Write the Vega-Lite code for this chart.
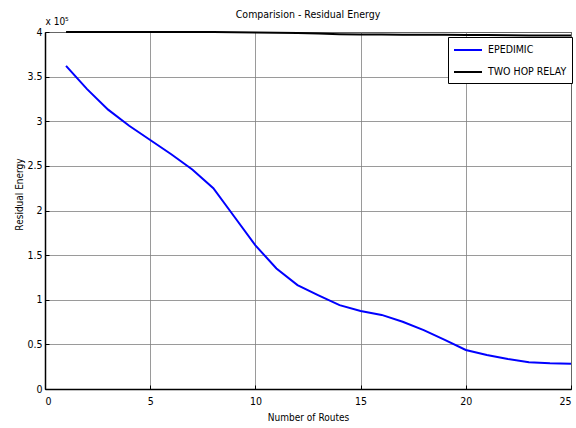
{
  "$schema": "https://vega.github.io/schema/vega-lite/v6.json",
  "width": 526,
  "height": 357,
  "autosize": {"type": "none"},
  "padding": {"left": 45, "top": 32, "right": 5, "bottom": 39},
  "background": "white",
  "title": {
    "text": "Comparision - Residual Energy",
    "fontSize": 10.5,
    "fontWeight": "normal",
    "font": "DejaVu Sans Condensed, Liberation Sans Narrow, Liberation Sans",
    "anchor": "middle",
    "offset": -4,
    "color": "black"
  },
  "config": {
    "view": {"stroke": "black", "strokeWidth": 1},
    "font": "DejaVu Sans Condensed, Liberation Sans Narrow, Liberation Sans",
    "axis": {
      "gridColor": "#808080",
      "gridOpacity": 1,
      "gridWidth": 0.8,
      "domainColor": "black",
      "domainWidth": 1.5,
      "tickColor": "black",
      "labelColor": "black",
      "labelFontSize": 10.5,
      "titleFontSize": 10,
      "titleFontWeight": "normal",
      "titleColor": "black"
    }
  },
  "data": {
    "values": [
      {"routes": 1, "energy": 362000, "series": "EPEDIMIC"},
      {"routes": 2, "energy": 336000, "series": "EPEDIMIC"},
      {"routes": 3, "energy": 313000, "series": "EPEDIMIC"},
      {"routes": 4, "energy": 295000, "series": "EPEDIMIC"},
      {"routes": 5, "energy": 279000, "series": "EPEDIMIC"},
      {"routes": 6, "energy": 263000, "series": "EPEDIMIC"},
      {"routes": 7, "energy": 246000, "series": "EPEDIMIC"},
      {"routes": 8, "energy": 225000, "series": "EPEDIMIC"},
      {"routes": 9, "energy": 193000, "series": "EPEDIMIC"},
      {"routes": 10, "energy": 161000, "series": "EPEDIMIC"},
      {"routes": 11, "energy": 135000, "series": "EPEDIMIC"},
      {"routes": 12, "energy": 116500, "series": "EPEDIMIC"},
      {"routes": 13, "energy": 105000, "series": "EPEDIMIC"},
      {"routes": 14, "energy": 94000, "series": "EPEDIMIC"},
      {"routes": 15, "energy": 87400, "series": "EPEDIMIC"},
      {"routes": 16, "energy": 83000, "series": "EPEDIMIC"},
      {"routes": 17, "energy": 75400, "series": "EPEDIMIC"},
      {"routes": 18, "energy": 66000, "series": "EPEDIMIC"},
      {"routes": 19, "energy": 55000, "series": "EPEDIMIC"},
      {"routes": 20, "energy": 43700, "series": "EPEDIMIC"},
      {"routes": 21, "energy": 38000, "series": "EPEDIMIC"},
      {"routes": 22, "energy": 33600, "series": "EPEDIMIC"},
      {"routes": 23, "energy": 30000, "series": "EPEDIMIC"},
      {"routes": 24, "energy": 28800, "series": "EPEDIMIC"},
      {"routes": 25, "energy": 28400, "series": "EPEDIMIC"},
      {"routes": 1, "energy": 400000, "series": "TWO HOP RELAY"},
      {"routes": 2, "energy": 400000, "series": "TWO HOP RELAY"},
      {"routes": 3, "energy": 400000, "series": "TWO HOP RELAY"},
      {"routes": 4, "energy": 400000, "series": "TWO HOP RELAY"},
      {"routes": 5, "energy": 400000, "series": "TWO HOP RELAY"},
      {"routes": 6, "energy": 400000, "series": "TWO HOP RELAY"},
      {"routes": 7, "energy": 400000, "series": "TWO HOP RELAY"},
      {"routes": 8, "energy": 400000, "series": "TWO HOP RELAY"},
      {"routes": 9, "energy": 399800, "series": "TWO HOP RELAY"},
      {"routes": 10, "energy": 399500, "series": "TWO HOP RELAY"},
      {"routes": 11, "energy": 399200, "series": "TWO HOP RELAY"},
      {"routes": 12, "energy": 399000, "series": "TWO HOP RELAY"},
      {"routes": 13, "energy": 398300, "series": "TWO HOP RELAY"},
      {"routes": 14, "energy": 397600, "series": "TWO HOP RELAY"},
      {"routes": 15, "energy": 397300, "series": "TWO HOP RELAY"},
      {"routes": 16, "energy": 397100, "series": "TWO HOP RELAY"},
      {"routes": 17, "energy": 397000, "series": "TWO HOP RELAY"},
      {"routes": 18, "energy": 396900, "series": "TWO HOP RELAY"},
      {"routes": 19, "energy": 396800, "series": "TWO HOP RELAY"},
      {"routes": 20, "energy": 396600, "series": "TWO HOP RELAY"},
      {"routes": 21, "energy": 396500, "series": "TWO HOP RELAY"},
      {"routes": 22, "energy": 396300, "series": "TWO HOP RELAY"},
      {"routes": 23, "energy": 396100, "series": "TWO HOP RELAY"},
      {"routes": 24, "energy": 396000, "series": "TWO HOP RELAY"},
      {"routes": 25, "energy": 396000, "series": "TWO HOP RELAY"}
    ]
  },
  "encoding": {
    "y": {
      "field": "energy",
      "type": "quantitative",
      "scale": {"domain": [0, 400000], "nice": false, "zero": true},
      "axis": {
        "values": [0, 50000, 100000, 150000, 200000, 250000, 300000, 350000, 400000],
        "labelExpr": "datum.value / 100000",
        "title": "Residual Energy",
        "tickSize": -4,
        "labelPadding": 7,
        "titleX": -21,
        "titleY": 162,
        "titleBaseline": "bottom"
      }
    },
    "color": {
      "field": "series",
      "type": "nominal",
      "scale": {"domain": ["EPEDIMIC", "TWO HOP RELAY"], "range": ["#0000ff", "#000000"]},
      "legend": {
        "title": null,
        "orient": "none",
        "legendX": 403,
        "legendY": 5,
        "strokeColor": "black",
        "fillColor": "white",
        "padding": 5,
        "symbolType": "M-2,0H2",
        "symbolSize": 196,
        "symbolStrokeWidth": 2,
        "symbolOffset": 7,
        "labelFontSize": 10.5,
        "labelOffset": 12,
        "rowPadding": 8,
        "labelColor": "black"
      }
    }
  },
  "layer": [
    {
      "transform": [{"filter": "datum.series === 'EPEDIMIC'"}],
      "mark": {"type": "line", "strokeWidth": 2},
      "encoding": {
        "x": {
          "field": "routes",
          "type": "quantitative",
          "scale": {"domain": [0, 25], "nice": false},
          "axis": {
            "values": [0, 5, 10, 15, 20, 25],
            "title": "Number of Routes",
            "tickSize": -4,
            "labelPadding": 11,
            "titlePadding": 6
          }
        }
      }
    },
    {
      "transform": [{"filter": "datum.series === 'TWO HOP RELAY'"}],
      "mark": {"type": "line", "strokeWidth": 2},
      "encoding": {
        "x": {
          "field": "routes",
          "type": "quantitative",
          "scale": {"domain": [0, 25], "nice": false},
          "axis": {
            "orient": "top",
            "title": "x 10⁵",
            "labels": false,
            "ticks": false,
            "domain": false,
            "grid": false,
            "titleX": 0,
            "titleY": -8,
            "titleAlign": "left",
            "titleBaseline": "alphabetic",
            "titleFontSize": 10
          }
        }
      }
    }
  ],
  "resolve": {"axis": {"x": "independent"}}
}
